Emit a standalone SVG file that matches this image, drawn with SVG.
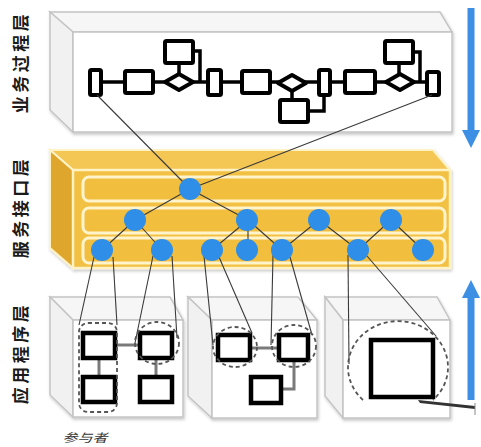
<svg xmlns="http://www.w3.org/2000/svg" width="481" height="447" viewBox="0 0 481 447">
<defs>
<filter id="sh" x="-10%" y="-10%" width="130%" height="130%">
<feDropShadow dx="1" dy="2" stdDeviation="1.5" flood-color="#000" flood-opacity="0.22"/>
</filter>
<style>
.bx-top{fill:#f6f6f6;stroke:#c4c4c4;stroke-width:1.5}
.bx-left{fill:#f1f1f1;stroke:#c4c4c4;stroke-width:1.5}
.bx-front{fill:#fff;stroke:#c4c4c4;stroke-width:1.5}
.fl{fill:#fff;stroke:#000;stroke-width:4;stroke-linejoin:round}
.fline{fill:none;stroke:#000;stroke-width:3.5}
.thin{fill:none;stroke:#3a3a3a;stroke-width:1.1}
.node{fill:#2f8ee8}
.tube{fill:#f2be3e;stroke:#fff4cc;stroke-width:3}
.sq{fill:#fff;stroke:#000;stroke-width:4.5}
.gl{fill:none;stroke:#7a7a7a;stroke-width:3}
.dash{fill:none;stroke:#555;stroke-width:1.8;stroke-dasharray:4 3}
.lbl{font-family:"Noto Sans CJK SC","Noto Sans",sans-serif;font-weight:bold;font-size:17px;fill:#1a1a1a;letter-spacing:3.5px}
.arrow{fill:#3d8fe3}
</style>
</defs>
<rect width="481" height="447" fill="#fff"/>

<g id="labels">
<text class="lbl" transform="translate(27,62) rotate(-90)" text-anchor="middle">业务过程层</text>
<text class="lbl" transform="translate(27,207) rotate(-90)" text-anchor="middle">服务接口层</text>
<text class="lbl" transform="translate(27,353) rotate(-90)" text-anchor="middle">应用程序层</text>
<text transform="translate(85,442) scale(1.15,0.9)" text-anchor="middle" font-family="Noto Sans CJK SC, sans-serif" font-size="13" fill="#333" font-style="italic">参与者</text>
</g>

<g id="box-process" filter="url(#sh)">
<polygon class="bx-top" points="50,12 440,12 452,32 73,32"/>
<polygon class="bx-left" points="50,12 73,32 73,132 50,110"/>
<rect class="bx-front" x="73" y="32" width="379" height="100"/>
</g>

<g id="flowchart">
<line class="fline" x1="101" y1="82" x2="427" y2="82"/>
<polyline class="fline" points="193,51 200,51 200,82"/>
<polyline class="fline" points="413,52 420,52 420,82"/>
<polyline class="fline" points="308,111 324,111 324,95"/>
<line class="fline" x1="179" y1="63" x2="179" y2="74"/>
<line class="fline" x1="399" y1="63" x2="399" y2="74"/>
<line class="fline" x1="292" y1="90" x2="292" y2="100"/>
<rect class="fl" x="90" y="70" width="11" height="25" rx="1.5"/>
<rect class="fl" x="125" y="71" width="28" height="22" rx="1.5"/>
<polygon class="fl" points="165,82 179,74 193,82 179,90"/>
<rect class="fl" x="165" y="41" width="28" height="22" rx="1.5"/>
<rect class="fl" x="208" y="70" width="13" height="25" rx="1.5"/>
<rect class="fl" x="242" y="71" width="28" height="22" rx="1.5"/>
<polygon class="fl" points="278,83 292,75 306,83 292,91"/>
<rect class="fl" x="280" y="100" width="28" height="22" rx="1.5"/>
<rect class="fl" x="319" y="70" width="11" height="25" rx="1.5"/>
<rect class="fl" x="345" y="71" width="30" height="22" rx="1.5"/>
<polygon class="fl" points="386,82 400,74 414,82 400,90"/>
<rect class="fl" x="385" y="41" width="28" height="22" rx="1.5"/>
<rect class="fl" x="427" y="72" width="12" height="23" rx="1.5"/>
</g>

<g id="box-interface" filter="url(#sh)">
<polygon points="50,150 433,150 450,170 73,170" fill="#f4c652" stroke="#fff2c4" stroke-width="2"/>
<polygon points="50,150 73,170 73,268 50,248" fill="#dfa62e" stroke="#fff2c4" stroke-width="2"/>
<rect x="73" y="170" width="377" height="98" fill="#f2c043" stroke="#fff2c4" stroke-width="2.5"/>
<rect class="tube" x="83" y="177" width="362" height="24" rx="6"/>
<rect class="tube" x="83" y="208" width="362" height="25" rx="6"/>
<rect class="tube" x="83" y="238" width="362" height="25" rx="6"/>
</g>

<g id="box-app1" filter="url(#sh)">
<polygon class="bx-top" points="50,297 170,297 183,320 73,320"/>
<polygon class="bx-left" points="50,297 73,320 73,417 50,395"/>
<rect class="bx-front" x="73" y="320" width="110" height="97"/>
</g>
<g id="box-app2" filter="url(#sh)">
<polygon class="bx-top" points="188,297 298,297 317,320 212,320"/>
<polygon class="bx-left" points="188,297 212,320 212,418 188,396"/>
<rect class="bx-front" x="212" y="320" width="105" height="98"/>
</g>
<g id="box-app3" filter="url(#sh)">
<polygon class="bx-top" points="325,297 437,297 450,320 343,320"/>
<polygon class="bx-left" points="325,297 343,320 343,418 325,396"/>
<rect class="bx-front" x="343" y="320" width="107" height="98"/>
</g>

<g id="connectors">
<line class="thin" x1="97" y1="95" x2="190" y2="189"/>
<line class="thin" x1="432" y1="95" x2="190" y2="189"/>
<line class="thin" x1="190" y1="189" x2="135" y2="220"/>
<line class="thin" x1="190" y1="189" x2="248" y2="220"/>
<line class="thin" x1="135" y1="220" x2="102" y2="250"/>
<line class="thin" x1="135" y1="220" x2="162" y2="250"/>
<line class="thin" x1="248" y1="220" x2="212" y2="250"/>
<line class="thin" x1="248" y1="220" x2="248" y2="250"/>
<line class="thin" x1="248" y1="220" x2="282" y2="250"/>
<line class="thin" x1="319" y1="220" x2="282" y2="250"/>
<line class="thin" x1="319" y1="220" x2="358" y2="250"/>
<line class="thin" x1="391" y1="220" x2="358" y2="250"/>
<line class="thin" x1="391" y1="220" x2="423" y2="250"/>
<line class="thin" x1="94" y1="257" x2="79" y2="325"/>
<line class="thin" x1="113" y1="257" x2="117" y2="325"/>
<line class="thin" x1="153" y1="256" x2="135" y2="343"/>
<line class="thin" x1="172" y1="256" x2="177" y2="338"/>
<line class="thin" x1="204" y1="256" x2="213" y2="345"/>
<line class="thin" x1="219" y1="257" x2="252" y2="333"/>
<line class="thin" x1="273" y1="255" x2="271" y2="345"/>
<line class="thin" x1="290" y1="257" x2="312" y2="335"/>
<line class="thin" x1="348" y1="255" x2="349" y2="364"/>
<line class="thin" x1="367" y1="256" x2="436" y2="336"/>
</g>

<g id="nodes">
<circle class="node" cx="190" cy="189" r="11"/>
<circle class="node" cx="135" cy="220" r="11"/>
<circle class="node" cx="247" cy="220" r="11"/>
<circle class="node" cx="319" cy="220" r="11"/>
<circle class="node" cx="391" cy="220" r="11"/>
<circle class="node" cx="102" cy="250" r="11"/>
<circle class="node" cx="162" cy="250" r="11"/>
<circle class="node" cx="212" cy="250" r="11"/>
<circle class="node" cx="247" cy="250" r="11"/>
<circle class="node" cx="282" cy="250" r="11"/>
<circle class="node" cx="358" cy="250" r="11"/>
<circle class="node" cx="423" cy="250" r="11"/>
</g>

<g id="participants1">
<line class="gl" x1="115" y1="345" x2="140" y2="345"/>
<line class="gl" x1="99" y1="358" x2="99" y2="377"/>
<line class="gl" x1="156" y1="358" x2="156" y2="377"/>
<rect class="sq" x="83" y="333" width="32" height="25"/>
<rect class="sq" x="140" y="333" width="32" height="25"/>
<rect class="sq" x="83" y="377" width="32" height="25"/>
<rect class="sq" x="140" y="377" width="32" height="25"/>
<rect class="dash" x="79" y="323" width="38" height="89" rx="9"/>
<ellipse class="dash" cx="157" cy="343" rx="22" ry="21"/>
</g>

<g id="participants2">
<line class="gl" x1="250" y1="348" x2="279" y2="348"/>
<polyline class="gl" points="294,360 294,389 281,389"/>
<rect class="sq" x="218" y="335" width="32" height="25"/>
<rect class="sq" x="279" y="335" width="29" height="25"/>
<rect class="sq" x="251" y="377" width="30" height="26"/>
<ellipse class="dash" cx="235" cy="347" rx="22" ry="20"/>
<ellipse class="dash" cx="294" cy="346" rx="22" ry="21"/>
</g>

<g id="participants3">
<rect class="sq" x="371" y="340" width="62" height="57"/>
<path class="dash" d="M363,400 A50,46 0 1,1 433,400"/>
<polygon points="418,400 475,406 475,409 420,403" fill="#333"/>
<line x1="475" y1="403" x2="475" y2="415" stroke="#888" stroke-width="1"/>
</g>

<g id="arrows">
<rect class="arrow" x="467.5" y="8" width="7" height="124"/>
<polygon class="arrow" points="462,130 480,130 471,148"/>
<rect class="arrow" x="467.5" y="296" width="7" height="104"/>
<polygon class="arrow" points="462,298 480,298 471,280"/>
</g>
</svg>
